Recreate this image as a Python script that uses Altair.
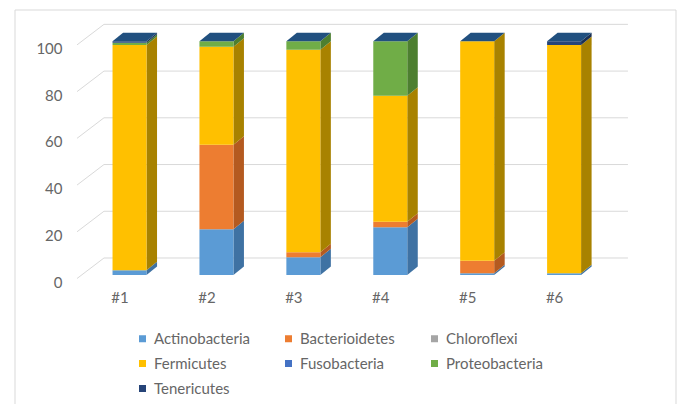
import altair as alt
import pandas as pd

# ---------------- data ----------------
samples = ["#1", "#2", "#3", "#4", "#5", "#6"]
phyla = ["Actinobacteria", "Bacterioidetes", "Chloroflexi", "Fermicutes",
         "Fusobacteria", "Proteobacteria", "Tenericutes"]
actinobacteria = [2.0, 19.6, 7.6, 20.4, 0.8, 0.8]
bacterioidetes = [0.0, 36.2, 2.1, 2.4, 5.3, 0.0]
chloroflexi = [0.0, 0.0, 0.0, 0.0, 0.0, 0.0]
fermicutes = [96.4, 41.9, 86.7, 53.9, 93.9, 97.6]
fusobacteria = [0.0, 0.0, 0.0, 0.0, 0.0, 0.0]
proteobacteria = [1.0, 2.3, 3.6, 23.3, 0.0, 0.0]
tenericutes = [0.6, 0.0, 0.0, 0.0, 0.0, 1.6]
y_ticks = [0, 20, 40, 60, 80, 100]

# ---------------- style ----------------
front_colors = ["#5B9BD5", "#ED7D31", "#A5A5A5", "#FFC000", "#4472C4", "#70AD47", "#264478"]
side_colors = ["#3F72A3", "#B45A20", "#7A7A7A", "#A88200", "#2F5597", "#4D7F30", "#1A3055"]
top_color = "#21507F"
grid_color = "#D9D9D9"
text_color = "#666666"
FONT = "Lato"

# 3-D look (in data units)
W_BAR = 0.391
DX = 0.121
DY = 3.64
BACK_DY = 7.28
FLOOR_X0 = 0.396
BACK_X0 = 0.706
BACK_X1 = 6.735

series = [actinobacteria, bacterioidetes, chloroflexi, fermicutes,
          fusobacteria, proteobacteria, tenericutes]

front, side, top = [], [], []
for i, s in enumerate(samples):
    pos = i + 1
    lo = 0.0
    xl, xr = pos - W_BAR / 2, pos + W_BAR / 2
    for k, name in enumerate(phyla):
        v = series[k][i]
        hi = lo + v
        if v > 0:
            front.append(dict(sample=s, phylum=name, x=xl, x2=xr, y=lo, y2=hi))
            seg = f"{s}-{name}"
            side.append(dict(seg=seg, c=side_colors[k], x=xr, y=lo, y2=hi))
            side.append(dict(seg=seg, c=side_colors[k], x=xr + DX, y=lo + DY, y2=hi + DY))
        lo = hi
    T = lo
    top += [dict(bar=s, x=xl, y=T, y2=T),
            dict(bar=s, x=xl + DX, y=T, y2=T + DY),
            dict(bar=s, x=xr, y=T, y2=T + DY),
            dict(bar=s, x=xr + DX, y=T + DY, y2=T + DY)]

front_df = pd.DataFrame(front)
side_df = pd.DataFrame(side)
top_df = pd.DataFrame(top)
grid_df = pd.DataFrame({
    "v": y_ticks,
    "yb": [v + BACK_DY for v in y_ticks],
    "yf": [v - 1.5 for v in y_ticks],
    "x0": [BACK_X0] * len(y_ticks),
    "x1": [BACK_X1] * len(y_ticks),
    "xf": [FLOOR_X0] * len(y_ticks),
})

xscale = alt.Scale(domain=[0.2, 7.0], nice=False, zero=False)
yscale = alt.Scale(domain=[0, 110], nice=False, zero=False)
xaxis = alt.Axis(values=list(range(1, len(samples) + 1)),
                 labelExpr="'#' + datum.value", title=None, grid=False,
                 domain=False, ticks=False, tickSize=0, labelPadding=15,
                 labelOffset=-10, labelFont=FONT, labelFontSize=15,
                 labelColor=text_color)
yaxis = alt.Axis(values=y_ticks, title=None, grid=False, domain=False,
                 ticks=False, tickSize=0, labelPadding=0, offset=-2,
                 labelOffset=7, labelFont=FONT, labelFontSize=15,
                 labelColor=text_color)


def X(f):
    return alt.X(f, type="quantitative", scale=xscale, axis=xaxis)


def Y(f):
    return alt.Y(f, type="quantitative", scale=yscale, axis=yaxis, stack=None)


border = alt.Chart(pd.DataFrame({"a": [0]})).mark_rect(
    fillOpacity=0, stroke=grid_color, strokeWidth=1
).encode(x=alt.value(-45), x2=alt.value(616), y=alt.value(-8), y2=alt.value(392))

grid = alt.Chart(grid_df).mark_rule(color=grid_color, strokeWidth=1).encode(
    x=X("x0"), x2="x1", y=Y("yb"))
diag = alt.Chart(grid_df).mark_rule(color=grid_color, strokeWidth=1).encode(
    x=X("xf"), x2="x0", y=Y("yf"), y2="yb")

sides = alt.Chart(side_df).mark_area(interpolate="linear").encode(
    x=X("x"), y=Y("y"), y2="y2",
    color=alt.Color("c:N", scale=None), detail="seg:N")

tops = alt.Chart(top_df).mark_area(interpolate="linear", color=top_color).encode(
    x=X("x"), y=Y("y"), y2="y2", detail="bar:N")

fronts = alt.Chart(front_df).mark_rect().encode(
    x=X("x"), x2="x2", y=Y("y"), y2="y2",
    color=alt.Color("phylum:N",
                    scale=alt.Scale(domain=phyla, range=front_colors),
                    sort=phyla,
                    legend=alt.Legend(title=None, orient="none", legendX=75, legendY=313,
                                      direction="horizontal",
                                      columns=3, symbolType="square", symbolSize=49,
                                      symbolStrokeWidth=0, labelFont=FONT,
                                      labelFontSize=15, labelColor=text_color,
                                      columnPadding=30, rowPadding=9, gridAlign="all",
                                      padding=0, labelOffset=4)),
    order=alt.value(0))

chart = alt.layer(border, grid, diag, sides, fronts, tops).properties(
    width=591, height=257,
    padding={"left": 60, "top": 18, "right": 33, "bottom": 129},
    autosize=alt.AutoSizeParams(type="none"),
    background="white",
).configure_view(stroke=None)

chart.save("out.html", embed_options={"renderer": "svg", "actions": False})
